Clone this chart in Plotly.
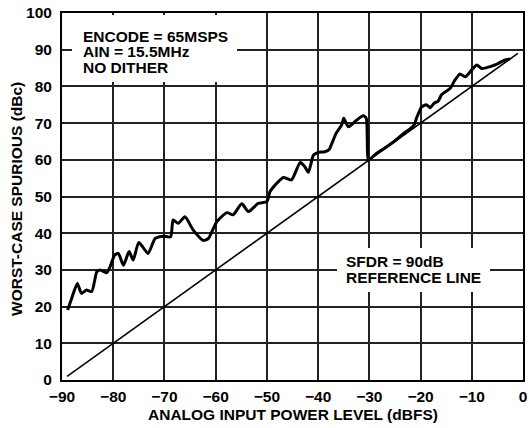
import plotly.graph_objects as go

# SFDR curve (worst-case spurious, dBc) vs analog input power level (dBFS)
sfdr_x = [-88.9, -88.1, -87.0, -86.2, -85.2, -84.2, -83.2, -82.6, -81.3, -80.6, -79.7, -79.0,
          -78.0, -76.9, -76.1, -75.0, -73.2, -71.8, -70.2, -68.8, -68.3, -67.3, -66.0, -64.4,
          -62.4, -61.4, -59.8, -57.8, -56.6, -54.9, -53.6, -51.7, -50.0, -49.4, -48.4, -46.8,
          -45.2, -43.5, -42.6, -41.9, -40.9, -40.0, -38.7, -37.8, -37.3, -36.5, -35.4, -35.0,
          -34.1, -32.5, -31.2, -30.6, -30.4, -30.2, -28.9, -26.9, -25.0, -23.0, -22.0, -21.2,
          -20.8, -20.1, -19.8, -18.9, -18.1, -17.3, -16.6, -15.9, -14.2, -13.3, -12.3, -11.3,
          -10.0, -9.0, -8.1, -6.4, -4.8, -3.5, -2.5]
sfdr_y = [19.1, 22.3, 26.3, 23.6, 24.5, 24.1, 29.5, 30.0, 29.2, 30.9, 34.1, 34.5,
          31.3, 35.0, 32.7, 37.5, 34.5, 38.6, 39.2, 39.0, 43.6, 42.7, 44.5, 40.9,
          38.0, 38.6, 43.1, 45.6, 45.0, 48.0, 45.9, 48.1, 48.6, 51.3, 53.1, 55.2,
          54.5, 59.3, 58.1, 56.6, 61.3, 62.0, 62.2, 62.9, 64.5, 67.2, 69.5, 71.3,
          69.0, 70.8, 72.0, 71.3, 65.4, 59.9, 61.4, 63.3, 65.2, 67.5, 68.5, 69.6,
          71.3, 73.6, 74.4, 75.0, 74.2, 75.5, 75.9, 77.7, 79.5, 81.7, 83.4, 82.6,
          84.5, 85.8, 84.9, 85.4, 86.3, 87.2, 87.5]

# SFDR = 90 dB reference line
ref_x = [-89, -1]
ref_y = [1, 89]

x_ticks = [-90, -80, -70, -60, -50, -40, -30, -20, -10, 0]
y_ticks = [0, 10, 20, 30, 40, 50, 60, 70, 80, 90, 100]

note1_lines = ["ENCODE = 65MSPS", "AIN = 15.5MHz", "NO DITHER"]
note2_lines = ["SFDR = 90dB", "REFERENCE LINE"]

FONT = "Arial, Liberation Sans, Helvetica, sans-serif"
FS = 15.5

W, H = 529, 428
L, R, T, B = 62, 523, 13, 380
PW, PH = R - L, B - T


def px(xp):
    return (xp - L) / PW


def py(yp):
    return (B - yp) / PH


fig = go.Figure()
fig.add_trace(go.Scatter(x=ref_x, y=ref_y, mode="lines",
                         line=dict(color="black", width=1.6), hoverinfo="skip"))
fig.add_trace(go.Scatter(x=sfdr_x, y=sfdr_y, mode="lines",
                         line=dict(color="black", width=3, shape="spline", smoothing=0.6),
                         hoverinfo="skip"))

# white boxes hiding the grid behind the notes
for (x0, x1, y0, y1) in [(72, 237, 15, 82), (337, 490, 248, 292)]:
    fig.add_annotation(xref="paper", yref="paper", x=px(x0), y=py(y0),
                       xanchor="left", yanchor="top", showarrow=False, text=" ",
                       width=x1 - x0, height=y1 - y0, bgcolor="white", borderpad=0,
                       borderwidth=0)

for i, t in enumerate(note1_lines):
    fig.add_annotation(xref="paper", yref="paper", x=px(81), y=py(36 + 15.7 * i),
                       xanchor="left", yanchor="middle", showarrow=False,
                       text="<b>%s</b>" % t,
                       font=dict(family=FONT, size=FS, color="black"))
for i, t in enumerate(note2_lines):
    fig.add_annotation(xref="paper", yref="paper", x=px(344), y=py(261 + 16 * i),
                       xanchor="left", yanchor="middle", showarrow=False,
                       text="<b>%s</b>" % t,
                       font=dict(family=FONT, size=FS, color="black"))

# axis titles
fig.add_annotation(xref="paper", yref="paper", x=px(293), y=py(414),
                   xanchor="center", yanchor="middle", showarrow=False,
                   text="<b>ANALOG INPUT POWER LEVEL (dBFS)</b>",
                   font=dict(family=FONT, size=FS, color="black"))
fig.add_annotation(xref="paper", yref="paper", x=px(17), y=py(199),
                   xanchor="center", yanchor="middle", showarrow=False, textangle=-90,
                   text="<b>WORST-CASE SPURIOUS (dBc)</b>",
                   font=dict(family=FONT, size=FS, color="black"))

axis_common = dict(showgrid=True, gridcolor="#222222", gridwidth=1.5,
                   showline=True, linecolor="black", linewidth=2, mirror=True,
                   zeroline=False, ticks="", automargin=False, ticklabeloverflow="allow",
                   tickfont=dict(family=FONT, size=FS, color="black", weight=700))

fig.update_xaxes(range=[-90, 0], tickvals=x_ticks, ticklabelstandoff=1, **axis_common)
fig.update_yaxes(range=[0, 100], tickvals=y_ticks, ticklabelstandoff=5, **axis_common)

fig.update_layout(width=W, height=H, showlegend=False,
                  margin=dict(l=L, r=W - R, t=T, b=H - B),
                  plot_bgcolor="white", paper_bgcolor="white")

# remove the browser's default 8px body margin so the figure fills the window
fig.write_html("out.html", config={"displayModeBar": False},
               post_script="document.body.style.margin='0px';")
